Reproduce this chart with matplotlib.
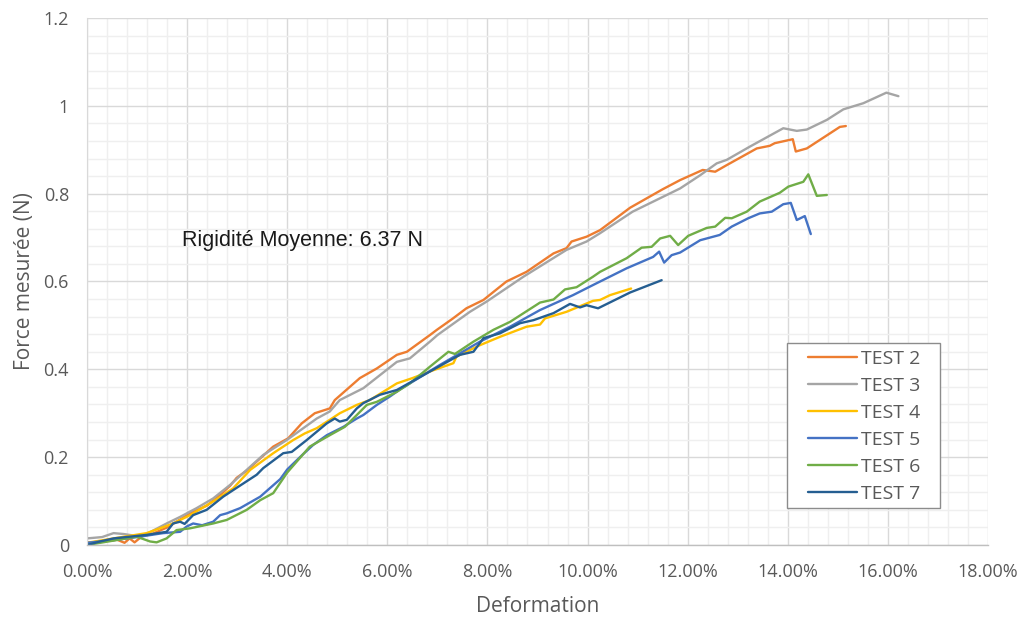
import matplotlib
matplotlib.use("Agg")
import numpy as np
import matplotlib.pyplot as plt
from matplotlib.patches import Rectangle
from matplotlib.ticker import PercentFormatter, MultipleLocator, FuncFormatter

# Deformation in percent, force in N
test2_x = [0, 0.3, 0.6, 0.75, 0.85, 0.95, 1.1, 1.3, 1.6, 2.06, 2.4, 2.66, 2.86, 2.99, 3.2, 3.39,
           3.72, 4.02, 4.29, 4.55, 4.85, 4.95, 5.2, 5.45, 5.79, 6.19, 6.39, 6.85, 6.99, 7.3, 7.58,
           7.92, 8.38, 8.78, 9.32, 9.58, 9.68, 9.98, 10.25, 10.85, 11.5, 11.85, 12.3, 12.55, 12.78,
           13.38, 13.64, 13.74, 14.1, 14.16, 14.38, 15.04, 15.16]
test2_y = [0.005, 0.008, 0.012, 0.005, 0.015, 0.006, 0.02, 0.025, 0.04, 0.072, 0.09, 0.114, 0.135,
           0.153, 0.17, 0.190, 0.224, 0.243, 0.277, 0.300, 0.311, 0.330, 0.355, 0.380, 0.402, 0.433,
           0.440, 0.478, 0.490, 0.515, 0.539, 0.558, 0.600, 0.622, 0.664, 0.676, 0.691, 0.702, 0.717,
           0.768, 0.81, 0.831, 0.854, 0.85, 0.865, 0.903, 0.909, 0.915, 0.924, 0.896, 0.903, 0.952,
           0.954]

test3_x = [0, 0.3, 0.53, 0.73, 0.96, 1.19, 1.59, 1.86, 2.19, 2.52, 2.86, 3.52, 3.99, 4.59, 4.85,
           5.05, 5.52, 6.19, 6.45, 6.85, 7.0, 7.65, 7.98, 8.72, 9.58, 9.98, 10.25, 10.9, 11.85,
           12.25, 12.58, 12.78, 13.24, 13.91, 14.18, 14.38, 14.78, 15.11, 15.51, 15.97, 16.21]
test3_y = [0.015, 0.018, 0.027, 0.025, 0.021, 0.025, 0.049, 0.064, 0.084, 0.106, 0.137, 0.205,
           0.239, 0.288, 0.304, 0.330, 0.357, 0.417, 0.425, 0.463, 0.478, 0.531, 0.554, 0.611,
           0.672, 0.691, 0.710, 0.759, 0.812, 0.842, 0.869, 0.877, 0.907, 0.949, 0.943, 0.946,
           0.968, 0.992, 1.006, 1.030, 1.022]

test4_x = [0, 0.53, 1.19, 1.72, 2.06, 2.52, 2.92, 3.26, 3.72, 4.12, 4.35, 4.59, 4.85, 5.05, 5.39,
           5.65, 6.19, 6.5, 6.92, 7.32, 7.38, 7.85, 8.25, 8.78, 9.05, 9.15, 9.58, 10.11, 10.25,
           10.45, 10.87]
test4_y = [0.005, 0.015, 0.027, 0.049, 0.068, 0.099, 0.129, 0.171, 0.209, 0.239, 0.254, 0.266,
           0.285, 0.300, 0.319, 0.330, 0.368, 0.38, 0.398, 0.414, 0.429, 0.455, 0.474, 0.497,
           0.502, 0.516, 0.531, 0.556, 0.558, 0.569, 0.584]

test5_x = [0, 0.53, 1.0, 1.52, 1.86, 1.99, 2.12, 2.3, 2.52, 2.66, 2.79, 3.06, 3.46, 3.86, 4.0,
           4.3, 4.52, 4.79, 5.12, 5.39, 5.52, 5.79, 6.05, 6.25, 7.05, 7.85, 8.45, 9.05, 9.71,
           10.11, 10.78, 11.31, 11.43, 11.53, 11.68, 11.85, 12.25, 12.64, 12.88, 13.21, 13.44,
           13.68, 13.91, 14.06, 14.18, 14.34, 14.46]
test5_y = [0.005, 0.011, 0.018, 0.027, 0.030, 0.042, 0.049, 0.045, 0.053, 0.068, 0.072, 0.084,
           0.110, 0.150, 0.172, 0.205, 0.228, 0.250, 0.269, 0.288, 0.296, 0.319, 0.338, 0.354,
           0.410, 0.463, 0.497, 0.535, 0.569, 0.592, 0.630, 0.656, 0.668, 0.643, 0.660, 0.666,
           0.694, 0.706, 0.725, 0.744, 0.755, 0.759, 0.776, 0.779, 0.740, 0.749, 0.708]

test6_x = [0, 0.53, 0.99, 1.26, 1.39, 1.59, 1.79, 2.06, 2.52, 2.79, 3.19, 3.46, 3.72, 4.0, 4.45,
           4.85, 5.15, 5.39, 5.59, 5.79, 6.19, 6.45, 6.85, 7.22, 7.35, 7.72, 8.12, 8.45, 9.05,
           9.32, 9.55, 9.78, 10.11, 10.25, 10.78, 11.08, 11.28, 11.45, 11.65, 11.81, 12.01, 12.38,
           12.55, 12.75, 12.88, 13.18, 13.44, 13.84, 14.01, 14.31, 14.41, 14.58, 14.78]
test6_y = [0.0, 0.01, 0.019, 0.008, 0.006, 0.015, 0.034, 0.038, 0.049, 0.057, 0.080, 0.102, 0.118,
           0.165, 0.224, 0.250, 0.269, 0.296, 0.319, 0.326, 0.349, 0.368, 0.406, 0.440, 0.435,
           0.463, 0.490, 0.508, 0.552, 0.559, 0.582, 0.587, 0.611, 0.622, 0.653, 0.677, 0.679,
           0.698, 0.704, 0.683, 0.704, 0.722, 0.725, 0.745, 0.744, 0.759, 0.782, 0.802, 0.816,
           0.827, 0.844, 0.795, 0.797]

test7_x = [0, 0.26, 0.53, 1.19, 1.59, 1.72, 1.86, 1.95, 2.12, 2.39, 2.72, 2.92, 3.39, 3.52, 3.92,
           4.09, 4.39, 4.79, 4.95, 5.05, 5.19, 5.39, 5.52, 5.85, 6.19, 6.85, 7.45, 7.72, 7.92,
           8.25, 8.65, 8.92, 9.32, 9.65, 9.85, 9.98, 10.21, 10.85, 11.48]
test7_y = [0.0, 0.008, 0.015, 0.023, 0.030, 0.049, 0.053, 0.048, 0.068, 0.080, 0.110, 0.125,
           0.160, 0.175, 0.209, 0.212, 0.239, 0.277, 0.288, 0.281, 0.285, 0.311, 0.323, 0.342,
           0.353, 0.395, 0.433, 0.440, 0.471, 0.482, 0.505, 0.512, 0.528, 0.549, 0.541, 0.546,
           0.539, 0.575, 0.603]

series = [
    ("TEST 2", test2_x, test2_y, "#ED7D31"),
    ("TEST 3", test3_x, test3_y, "#A5A5A5"),
    ("TEST 4", test4_x, test4_y, "#FFC000"),
    ("TEST 5", test5_x, test5_y, "#4472C4"),
    ("TEST 6", test6_x, test6_y, "#70AD47"),
    ("TEST 7", test7_x, test7_y, "#255E91"),
]

AXIS_FONT = "Open Sans"
TEXT_GREY = "#595959"


def y_label(v, pos):
    return f"{v:g}"


def main():
    fig = plt.figure(figsize=(10.25, 6.21), dpi=100)
    ax = fig.add_axes([0.0849, 0.1224, 0.879, 0.8486])

    for name, xs, ys, color in series:
        ax.plot(np.array(xs) / 100.0, ys, color=color, lw=1.7, label=name,
                solid_joinstyle="round", solid_capstyle="round")

    ax.set_xlim(0, 0.18)
    ax.set_ylim(0, 1.2)
    ax.xaxis.set_major_locator(MultipleLocator(0.02))
    ax.xaxis.set_minor_locator(MultipleLocator(0.004))
    ax.yaxis.set_major_locator(MultipleLocator(0.2))
    ax.yaxis.set_minor_locator(MultipleLocator(0.04))
    ax.xaxis.set_major_formatter(PercentFormatter(xmax=1, decimals=2))
    ax.yaxis.set_major_formatter(FuncFormatter(y_label))

    ax.grid(which="major", color="#D9D9D9", lw=1.0)
    ax.grid(which="minor", color="#EFEFEF", lw=1.0)
    ax.set_axisbelow(True)

    for side in ("top", "right"):
        ax.spines[side].set_visible(False)
    ax.spines["left"].set_color("#D9D9D9")
    ax.spines["bottom"].set_color("#BFBFBF")
    ax.spines["bottom"].set_linewidth(1.0)

    ax.tick_params(which="both", length=0)
    ax.tick_params(axis="x", pad=13, labelsize=13, labelcolor=TEXT_GREY)
    ax.tick_params(axis="y", pad=13, labelsize=13, labelcolor=TEXT_GREY)
    for lbl in ax.get_xticklabels() + ax.get_yticklabels():
        lbl.set_fontfamily(AXIS_FONT)

    ax.set_xlabel("Deformation", fontsize=15, color=TEXT_GREY, family=AXIS_FONT, labelpad=11)
    ax.set_ylabel("Force mesurée (N)", fontsize=15, color=TEXT_GREY, family=AXIS_FONT, labelpad=6)

    ax.text(0.019, 0.694, "Rigidité Moyenne: 6.37 N", fontsize=15.5, color="#1A1A1A",
            family="Liberation Sans", va="center", ha="left")

    # legend box drawn separately so the entries can sit inset from its border
    box = Rectangle((0.777, 0.0702), 0.17, 0.3128, transform=ax.transAxes, facecolor="white",
                    edgecolor="#8C8C8C", lw=1.0, zorder=4)
    ax.add_patch(box)
    leg = ax.legend(loc="upper left", bbox_to_anchor=(0.8002, 0.370), frameon=False,
                    prop={"family": AXIS_FONT, "size": 14}, handlelength=2.5,
                    labelspacing=0.46, borderpad=0, handletextpad=0.25, borderaxespad=0)
    leg.set_zorder(5)
    for t in leg.get_texts():
        t.set_color(TEXT_GREY)

    fig.savefig("out.png", dpi=100)
    plt.close(fig)


if __name__ == "__main__":
    main()
